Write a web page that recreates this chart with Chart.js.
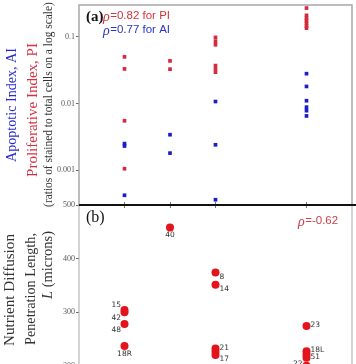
<!DOCTYPE html>
<html><head><meta charset="utf-8">
<script src="https://cdn.jsdelivr.net/npm/chart.js@4/dist/chart.umd.min.js"></script>
<style>
html,body{margin:0;padding:0;background:#fff;overflow:hidden;width:356px;height:364px}
#wrapA{position:absolute;left:0;top:0;width:356px;height:211px}
#wrapB{position:absolute;left:0;top:199px;width:356px;height:171px}
</style></head><body>
<div id="wrapB"><canvas id="cB"></canvas></div>
<div id="wrapA"><canvas id="cA"></canvas></div>
<script>
// ---- data ----
const columnX = [1, 2, 3, 5];
const piX = [1,1,1,1, 2,2, 3,3,3,3,3,3, 5,5,5,5,5,5,5];
const piY = [0.05,0.033,0.0055,0.00105, 0.0435,0.0327, 0.098,0.086,0.076,0.037,0.033,0.0295, 0.27,0.21,0.19,0.175,0.16,0.145,0.135];
const aiX = [1,1,1, 2,2, 3,3,3, 5,5,5,5,5,5];
const aiY = [0.0025,0.0023,0.00042, 0.0034,0.0018, 0.0107,0.0024,0.00036, 0.028,0.018,0.011,0.0088,0.0078,0.0065];
const lenX = [1,1,1,1, 2, 3,3,3,3,3, 5,5,5,5,5];
const lenY = [304,300,278,237, 458, 374,351,232,226,220, 274,227,221,215,200];
const lenLabels = ['15','42','48','18R','40','8','14','21','','17','23','18L','','51','22'];
const logTicks = [0.001, 0.01, 0.1];
const linTicks = [200, 300, 400, 500];
const rhoPI = '=0.82 for PI';
const rhoAI = '=0.77 for AI';
const rhoL = '=-0.62';

// ---- styles ----
const lenLabelPlace = ['ul','dl','dl','d','d','dr','dr','r','','dr','r','r','','r','l'];
const RED = '#d42a3c', BLUE = '#1c1cc8', DOT = '#e3141c';
const SERIF = '"Liberation Serif","Times New Roman",serif';
const SANS = '"Liberation Sans",Arial,sans-serif';

function fitFont(ctx, text, length, style, family){
  ctx.font = style + ' 20px ' + family;
  const w = ctx.measureText(text).width;
  return style + ' ' + (20 * length / w).toFixed(2) + 'px ' + family;
}
function vText(ctx, text, cx, cy, length, color, style){
  ctx.save();
  const f = fitFont(ctx, text, length, style || '', SERIF);
  ctx.translate(cx, cy); ctx.rotate(-Math.PI/2);
  ctx.font = f; ctx.fillStyle = color; ctx.textAlign = 'center'; ctx.textBaseline = 'middle';
  ctx.fillText(text, 0, 0);
  ctx.restore();
}
function rhoText(ctx, x, y, rest, color){
  ctx.save();
  ctx.fillStyle = color; ctx.textBaseline = 'middle'; ctx.textAlign = 'left';
  ctx.font = 'italic 14px ' + SERIF;
  ctx.fillText('\u03c1', x, y + 1);
  const w = ctx.measureText('\u03c1').width;
  ctx.font = '11.5px ' + SANS;
  ctx.fillText(rest, x + w + 0.5, y);
  ctx.restore();
}

const decorA = {
  id: 'decorA',
  afterDatasetsDraw(chart){
    const {ctx, chartArea: a} = chart;
    ctx.save();
    ctx.strokeStyle = '#a8a8a8'; ctx.lineWidth = 1.5;
    ctx.beginPath();
    ctx.moveTo(a.left, a.bottom); ctx.lineTo(a.left, a.top); ctx.lineTo(a.right, a.top); ctx.lineTo(a.right, a.bottom);
    ctx.stroke();
    ctx.strokeStyle = '#111'; ctx.lineWidth = 2;
    ctx.beginPath(); ctx.moveTo(a.left, a.bottom); ctx.lineTo(356, a.bottom); ctx.stroke();
    ctx.restore();
    vText(ctx, 'Apoptotic Index, AI', 12, 105, 114, '#2a2ad0');
    vText(ctx, 'Proliferative Index, PI', 33, 110, 134, '#d63040');
    vText(ctx, '(ratios of stained to total cells on a log scale)', 49, 104.5, 205, '#333');
    ctx.save();
    ctx.font = 'bold 15px ' + SERIF; ctx.fillStyle = '#111'; ctx.textBaseline = 'middle';
    ctx.fillText('(a)', a.left + 7, 17);
    ctx.restore();
    rhoText(ctx, a.left + 24, 16, rhoPI, '#d8303c');
    rhoText(ctx, a.left + 24, 30, rhoAI, '#2a35c8');
  }
};

const decorB = {
  id: 'decorB',
  afterDatasetsDraw(chart){
    const {ctx, chartArea: a} = chart;
    ctx.save();
    ctx.strokeStyle = '#b8b8b8'; ctx.lineWidth = 1.2;
    ctx.beginPath();
    ctx.moveTo(a.left, a.top); ctx.lineTo(a.left, a.bottom);
    ctx.moveTo(a.right, a.top); ctx.lineTo(a.right, a.bottom);
    ctx.stroke();
    ctx.restore();
    const meta = chart.getDatasetMeta(0);
    ctx.save();
    ctx.font = '7.5px "DejaVu Sans",sans-serif'; ctx.fillStyle = '#333'; ctx.textBaseline = 'middle';
    meta.data.forEach((pt, i) => {
      const t = lenLabels[i]; if (!t) return;
      let dx = 0, dy = 0, al = 'left';
      switch (lenLabelPlace[i]) {
        case 'ul': dx = -3.5; dy = -5; al = 'right'; break;
        case 'dl': dx = -3.5; dy = 6; al = 'right'; break;
        case 'd': dx = 0; dy = 8; al = 'center'; break;
        case 'dr': dx = 4; dy = 4.5; al = 'left'; break;
        case 'r': dx = 4; dy = -1; al = 'left'; break;
        case 'l': dx = -4; dy = -2; al = 'right'; break;
      }
      ctx.textAlign = al;
      ctx.fillText(t, pt.x + dx, pt.y + dy);
    });
    ctx.restore();
    const oy = -199;
    vText(ctx, 'Nutrient Diffusion', 10, 290 + oy, 112, '#333');
    vText(ctx, 'Penetration Length,', 31, 289 + oy, 112, '#333');
    ctx.save();
    ctx.translate(48, 265 + oy); ctx.rotate(-Math.PI/2);
    ctx.fillStyle = '#333'; ctx.textBaseline = 'middle';
    ctx.font = 'italic 14.5px ' + SERIF; const wL = ctx.measureText('L').width;
    ctx.font = '14.5px ' + SERIF; const wR = ctx.measureText(' (microns)').width;
    const x0 = -(wL + wR) / 2;
    ctx.textAlign = 'left';
    ctx.font = 'italic 14.5px ' + SERIF; ctx.fillText('L', x0, 0);
    ctx.font = '14.5px ' + SERIF; ctx.fillText(' (microns)', x0 + wL, 0);
    ctx.restore();
    ctx.save();
    ctx.font = '16px ' + SERIF; ctx.fillStyle = '#111'; ctx.textBaseline = 'middle';
    ctx.fillText('(b)', a.left + 7, 218 + oy);
    ctx.restore();
    rhoText(ctx, 298, 221 + oy, rhoL, '#c8404a');
  }
};

function xAxis(pos){
  return {
    type: 'linear', min: 0, max: 6, position: pos,
    afterBuildTicks: s => { s.ticks = columnX.map(v => ({value: v})); },
    afterFit: s => { s.height = 6; s.paddingLeft = 0; s.paddingRight = 0; },
    ticks: { display: false },
    grid: { drawOnChartArea: false, drawTicks: true, tickLength: 3, color: '#777' },
    border: { display: false }
  };
}
const tickFont = { family: SERIF, size: 8 };

new Chart(document.getElementById('cA'), {
  type: 'scatter',
  data: { datasets: [
    { label: 'PI', data: piX.map((x, i) => ({x, y: piY[i]})), pointStyle: 'rect', pointRadius: 2.6, backgroundColor: RED, borderWidth: 0 },
    { label: 'AI', data: aiX.map((x, i) => ({x, y: aiY[i]})), pointStyle: 'rect', pointRadius: 2.6, backgroundColor: BLUE, borderWidth: 0 }
  ]},
  options: {
    responsive: true, maintainAspectRatio: false, animation: false,
    layout: { padding: { top: 5, right: 3, left: 0, bottom: 0 } },
    plugins: { legend: { display: false }, tooltip: { enabled: false } },
    scales: {
      x: xAxis('bottom'),
      y: {
        type: 'logarithmic', min: 0.0003, max: 0.3,
        afterBuildTicks: s => { s.ticks = logTicks.map(v => ({value: v})); },
        afterFit: s => { s.width = 79; s.paddingTop = 0; s.paddingBottom = 0; },
        ticks: { callback: v => String(v), font: tickFont, color: '#555', padding: 1 },
        grid: { drawOnChartArea: false, drawTicks: true, tickLength: 3, color: '#666' },
        border: { display: false }
      }
    }
  },
  plugins: [decorA]
});

new Chart(document.getElementById('cB'), {
  type: 'scatter',
  data: { datasets: [
    { label: 'L', data: lenX.map((x, i) => ({x, y: lenY[i]})), pointStyle: 'circle', pointRadius: 4, backgroundColor: DOT, borderWidth: 0 }
  ]},
  options: {
    responsive: true, maintainAspectRatio: false, animation: false,
    layout: { padding: { top: 0, right: 3, left: 0, bottom: 0 } },
    plugins: { legend: { display: false }, tooltip: { enabled: false } },
    scales: {
      x: xAxis('top'),
      y: {
        type: 'linear', min: 199.5, max: 500,
        afterBuildTicks: s => { s.ticks = linTicks.map(v => ({value: v})); },
        afterFit: s => { s.width = 79; s.paddingTop = 0; s.paddingBottom = 0; },
        ticks: { font: tickFont, color: '#555', padding: 1 },
        grid: { drawOnChartArea: false, drawTicks: true, tickLength: 3, color: '#666' },
        border: { display: false }
      }
    }
  },
  plugins: [decorB]
});
</script>
</body></html>
